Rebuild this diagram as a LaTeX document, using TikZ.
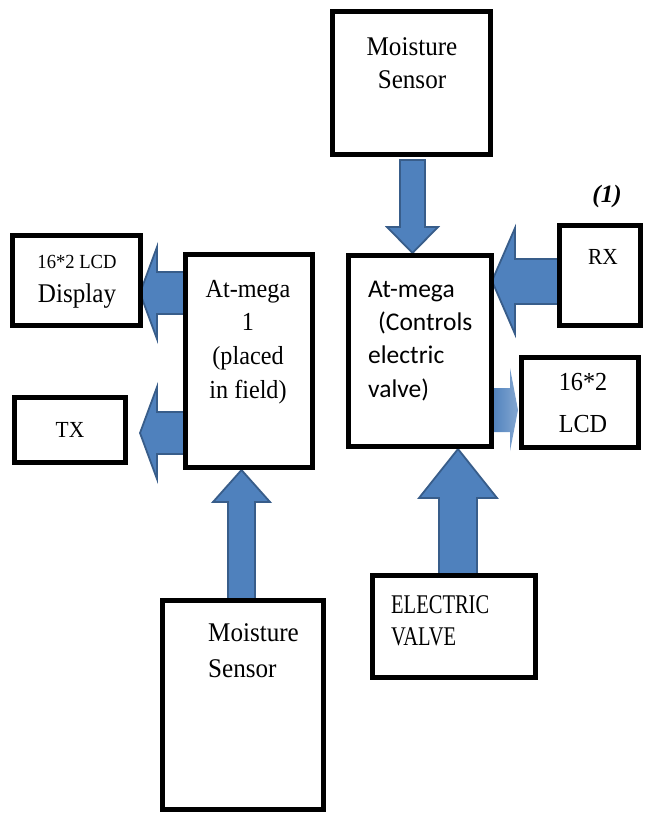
\documentclass[tikz,border=0pt]{standalone}
\usepackage{graphicx}
\usepackage{fontspec}
\setmainfont{Liberation Serif}
\newfontfamily\calfont{Carlito}
\newcommand{\sqz}[1]{\scalebox{0.93}[1]{#1}}
\newcommand{\sqzz}[1]{\scalebox{0.76}[1]{#1}}
\definecolor{arrowblue}{HTML}{4F81BD}
\definecolor{arrowedge}{HTML}{385D8A}
\tikzset{
  box/.style={draw=black, line width=5pt, fill=white, inner sep=0pt, line join=miter},
  barrow/.style={fill=arrowblue, draw=arrowedge, line width=1.8pt, line join=miter},
  lightarrow/.style={left color=arrowblue, right color=arrowblue!70!white, draw=none},
  txt/.style={inner sep=0pt, anchor=base},
  ltxt/.style={inner sep=0pt, anchor=base west},
  serifbig/.style={font=\rmfamily\fontsize{27}{33}\selectfont},
  serifmid/.style={font=\rmfamily\fontsize{26}{33}\selectfont},
  sans/.style={font=\calfont\fontsize{25.5}{33}\selectfont},
}
\begin{document}
\begin{tikzpicture}[x=1pt,y=-1pt]
\useasboundingbox (0,0) rectangle (646,814);

% block arrows (drawn first, boxes cover their ends)
\path[barrow] (400,160) -- (425,160) -- (425,227) -- (438,227) -- (412.5,253) -- (387,227) -- (400,227) -- cycle;
\path[barrow] (559,259) -- (515,259) -- (515,228) -- (492,281) -- (515,334) -- (515,304) -- (559,304) -- cycle;
\path[lightarrow] (492,388) -- (510,388) -- (510,368) -- (518,410) -- (510,451) -- (510,432) -- (492,432) -- cycle;
\path[barrow] (439,575) -- (439,498) -- (419,498) -- (458,449) -- (497,498) -- (477,498) -- (477,575) -- cycle;
\path[barrow] (186,272) -- (157,272) -- (157,247) -- (140,293) -- (157,339) -- (157,314) -- (186,314) -- cycle;
\path[barrow] (186,412) -- (157,412) -- (157,387) -- (140,433) -- (157,479) -- (157,454) -- (186,454) -- cycle;
\path[barrow] (228,599) -- (228,502) -- (213,502) -- (241.5,470) -- (270,502) -- (255,502) -- (255,599) -- cycle;

% boxes
\node[box, minimum width=158pt, minimum height=143pt] (ms1) at (411.5,83) {};
\node[box, minimum width=143pt, minimum height=191pt] (am2) at (420,351) {};
\node[box, minimum width=81pt, minimum height=100pt] (rx) at (600,275.5) {};
\node[box, minimum width=117pt, minimum height=90pt] (lcd2) at (580,402.5) {};
\node[box, minimum width=163pt, minimum height=102pt] (ev) at (454,626.5) {};
\node[box, minimum width=128pt, minimum height=90pt] (lcd1) at (76.5,280.5) {};
\node[box, minimum width=127pt, minimum height=213pt] (am1) at (249,361) {};
\node[box, minimum width=111pt, minimum height=65pt] (tx) at (70,430) {};
\node[box, minimum width=161pt, minimum height=209pt] (ms2) at (243,705) {};

% texts
\node[txt, serifbig] (ms1a) at (412,55) {\sqz{Moisture}};
\node[txt, serifbig] (ms1b) at (412,88) {\sqz{Sensor}};

\node[txt, font=\bfseries\itshape\fontsize{25}{30}\selectfont] (eq) at (607,202) {(1)};

\node[txt, font=\rmfamily\fontsize{20}{24}\selectfont] (lcd1a) at (77,268) {\sqz{16*2 LCD}};
\node[txt, font=\rmfamily\fontsize{27}{33}\selectfont] (lcd1b) at (77,302) {\sqz{Display}};

\node[txt, serifmid] (am1a) at (248,297) {\sqz{At-mega}};
\node[txt, serifmid] (am1b) at (248,330) {\sqz{1}};
\node[txt, serifmid] (am1c) at (248,364) {\sqz{(placed}};
\node[txt, serifmid] (am1d) at (248,398) {\sqz{in field)}};

\node[txt, font=\rmfamily\fontsize{23}{28}\selectfont] (txa) at (70,437) {\sqz{TX}};
\node[txt, font=\rmfamily\fontsize{23}{28}\selectfont] (rxa) at (603,264) {\sqz{RX}};

\node[txt, font=\rmfamily\fontsize{26}{33}\selectfont] (lcd2a) at (583,390) {\sqz{16*2}};
\node[txt, font=\rmfamily\fontsize{26}{33}\selectfont] (lcd2b) at (583,432) {\sqz{LCD}};

\node[ltxt, sans] (am2a) at (368,297) {At-mega};
\node[ltxt, sans] (am2b) at (378,330) {(Controls};
\node[ltxt, sans] (am2c) at (368,363) {electric};
\node[ltxt, sans] (am2d) at (368,397) {valve)};

\node[ltxt, font=\rmfamily\fontsize{27}{33}\selectfont] (eva) at (391,613) {\sqzz{ELECTRIC}};
\node[ltxt, font=\rmfamily\fontsize{27}{33}\selectfont] (evb) at (391,645) {\sqzz{VALVE}};

\node[ltxt, serifbig] (ms2a) at (208,641) {\sqz{Moisture}};
\node[ltxt, serifbig] (ms2b) at (208,677) {\sqz{Sensor}};
\end{tikzpicture}
\end{document}
